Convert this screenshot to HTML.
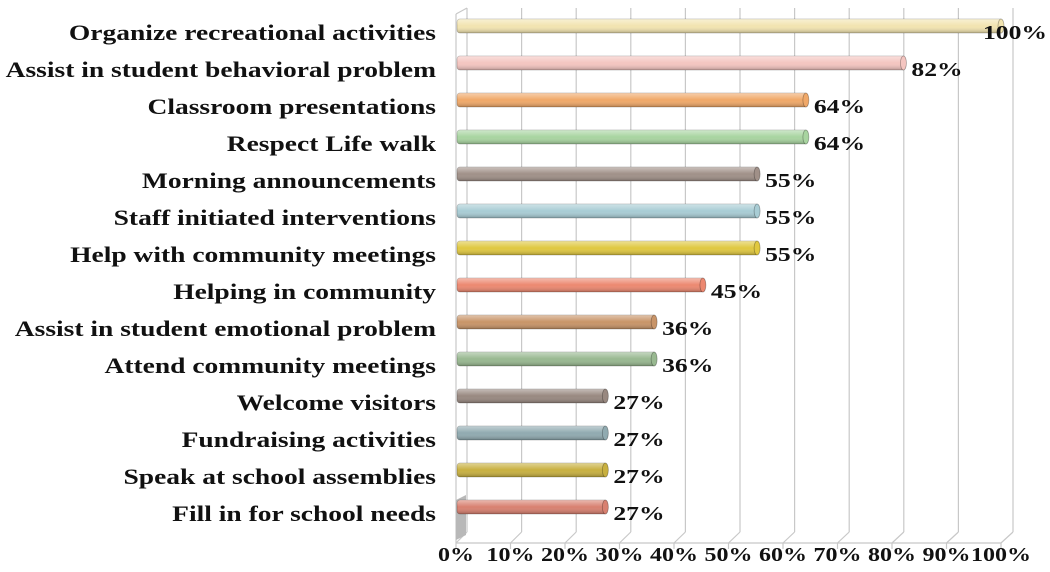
<!DOCTYPE html>
<html><head><meta charset="utf-8"><style>
html,body{margin:0;padding:0;background:#fff;width:1050px;height:572px;overflow:hidden}
svg text{font-family:"Liberation Serif",serif;font-weight:bold;fill:#111}
</style></head><body>
<svg id="chart" width="1050" height="572" viewBox="0 0 1050 572" xmlns="http://www.w3.org/2000/svg">
<defs>
<linearGradient id="shade" x1="0" y1="0" x2="0" y2="1">
<stop offset="0" stop-color="#fff" stop-opacity="0.45"/>
<stop offset="0.5" stop-color="#fff" stop-opacity="0"/>
<stop offset="1" stop-color="#000" stop-opacity="0.25"/>
</linearGradient>
</defs>
<g id="grid"></g><g id="bars"></g><g id="labels"></g>
</svg>
<script>
const categories = ["Organize recreational activities","Assist in student behavioral problem","Classroom presentations","Respect Life walk","Morning announcements","Staff initiated interventions","Help with community meetings","Helping in community","Assist in student emotional problem","Attend community meetings","Welcome visitors","Fundraising activities","Speak at school assemblies","Fill in for school needs"];
const values = [100,82,64,64,55,55,55,45,36,36,27,27,27,27];
const valueLabels = ["100%","82%","64%","64%","55%","55%","55%","45%","36%","36%","27%","27%","27%","27%"];
const tickValues = [0,10,20,30,40,50,60,70,80,90,100];
const tickLabels = ["0%","10%","20%","30%","40%","50%","60%","70%","80%","90%","100%"];
const colors = ["#f2e4b0","#f4c5c0","#f0a868","#a8d4a0","#a09088","#a8ccd4","#e0c840","#ec8870","#c89468","#98b890","#988880","#90aab0","#c8b040","#d88070"];
const NS="http://www.w3.org/2000/svg";
const x0=456, xw=5.45, bx0=467, bxw=5.46;
const xFront=v=>x0+v*xw;
const xBack=v=>bx0+v*bxw;
const xBar=v=>461+v*5.42;
const yRow=i=>26+i*37.0;
function mk(tag,attrs,parent){const e=document.createElementNS(NS,tag);for(const k in attrs)e.setAttribute(k,attrs[k]);parent.appendChild(e);return e;}
function widen(t,f){const w=t.getComputedTextLength();t.setAttribute('textLength',w*f);t.setAttribute('lengthAdjust','spacingAndGlyphs');return w*f;}
const grid=document.getElementById('grid'),bars=document.getElementById('bars'),labels=document.getElementById('labels');
tickValues.forEach((t,i)=>{
  const g=mk('line',{x1:xBack(t),y1:8,x2:xBack(t),y2:532,stroke:'#c8c8c8','stroke-width':1.2},grid);
  
  
  const d=mk('line',{x1:xBack(t),y1:532,x2:xFront(t),y2:543,stroke:'#c8c8c8','stroke-width':1.2},grid);
  
  
  const tk=mk('line',{x1:xFront(t),y1:543,x2:xFront(t),y2:549,stroke:'#c8c8c8','stroke-width':1.2},grid);
  
  
  const tl=mk('text',{x:xFront(t),y:561,'text-anchor':'middle','font-size':20},labels);
  tl.textContent=tickLabels[i];
  
  
  widen(tl,1.2);
});
const ax=mk('line',{x1:456,y1:14,x2:456,y2:543,stroke:'#c8c8c8','stroke-width':1.2},grid);


const fl=mk('line',{x1:456,y1:543,x2:xFront(100),y2:543,stroke:'#c8c8c8','stroke-width':1.2},grid);


mk('line',{x1:456,y1:14,x2:467,y2:8,stroke:'#c8c8c8','stroke-width':1.2},grid);
mk('polygon',{points:'456,500 466,495 466,535 456,540',fill:'#b8b8b8'},grid);
categories.forEach((c,i)=>{
  const y=yRow(i), xe=xBar(values[i]);
  const b=mk('rect',{x:457,y:y-7,width:xe-457,height:14,rx:3,fill:colors[i],stroke:'rgba(0,0,0,0.25)','stroke-width':0.8},bars);
  
  
  mk('rect',{x:457,y:y-7,width:xe-457,height:14,rx:3,fill:'url(#shade)'},bars);
  mk('ellipse',{cx:xe-2,cy:y,rx:3,ry:7,fill:colors[i],stroke:'rgba(0,0,0,0.3)','stroke-width':0.8},bars);
  const l=mk('text',{x:436,y:y+14,'text-anchor':'end','font-size':22},labels);
  l.textContent=c;
  
  
  widen(l,1.25);
  const v=mk('text',{x:xe+6,y:y+13,'font-size':20.5},labels);
  v.textContent=valueLabels[i];
  
  
  const vw=widen(v,1.25);
  if(xe+6+vw>1047) v.setAttribute('x',1047-vw);
});
</script>
</body></html>
